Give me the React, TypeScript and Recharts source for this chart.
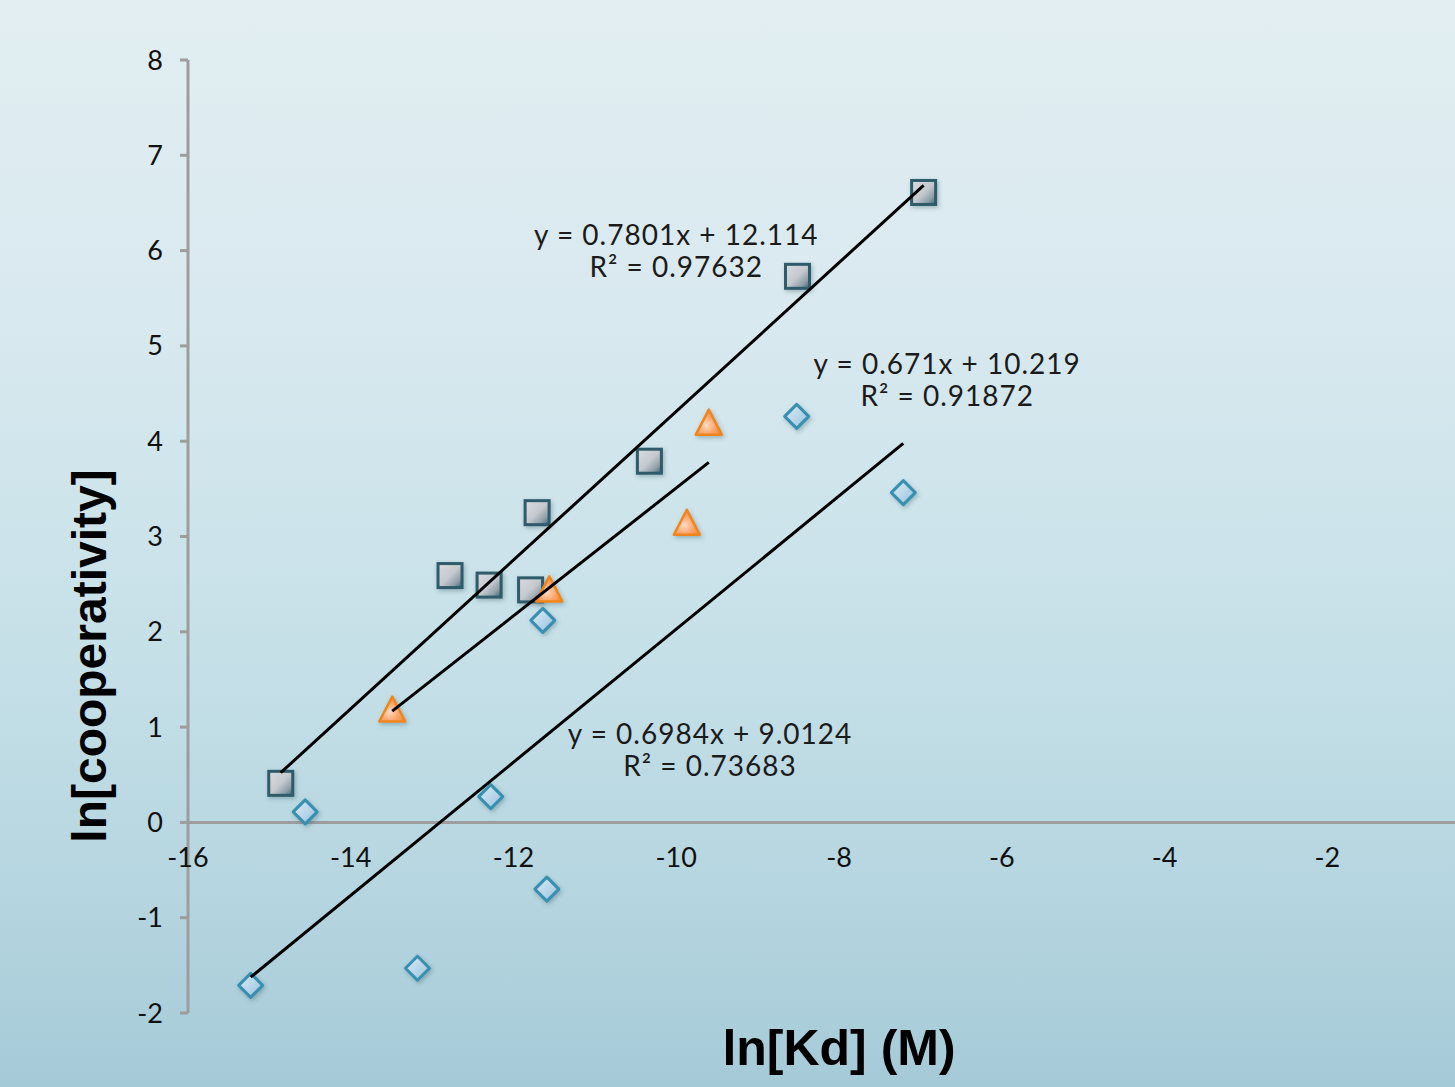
import React from 'react';
import { ScatterChart, Scatter, XAxis, YAxis, ReferenceLine } from 'recharts';

// axis ticks
const xTicks = [-16, -14, -12, -10, -8, -6, -4, -2];
const yTicks = [-2, -1, 0, 1, 2, 3, 4, 5, 6, 7, 8];

// series 1 - squares
const squareX = [-14.86, -12.78, -12.3, -11.79, -11.71, -10.33, -8.51, -6.96];
const squareY = [0.41, 2.59, 2.49, 2.44, 3.25, 3.79, 5.73, 6.61];

// series 2 - triangles
const triangleX = [-13.49, -11.56, -9.87, -9.6];
const triangleY = [1.19, 2.45, 3.15, 4.2];

// series 3 - diamonds
const diamondX = [-15.23, -14.56, -13.18, -12.28, -11.64, -11.59, -8.52, -7.21];
const diamondY = [-1.71, 0.11, -1.53, 0.27, 2.12, -0.7, 4.26, 3.46];

// linear trendlines (squares, triangles, diamonds)
const slopes = [0.7801, 0.671, 0.6984];
const intercepts = [12.114, 10.219, 9.0124];
const equations = ['y = 0.7801x + 12.114', 'y = 0.671x + 10.219', 'y = 0.6984x + 9.0124'];
const rSquared = ['R² = 0.97632', 'R² = 0.91872', 'R² = 0.73683'];
// where each equation label sits (data coords of first line baseline)
const labelX = [-10.0, -6.67, -9.585];
const labelY = [6.06, 4.71, 0.82];

const W = 1500;
const H = 1087;
const TOP = 60;
const BOTTOM = 44;
const X_AXIS_H = 30;
const PLOT_H = H - TOP - BOTTOM - X_AXIS_H;
const Y_MIN = -2;
const Y_MAX = 8;
const ZERO_Y = TOP + ((Y_MAX - 0) / (Y_MAX - Y_MIN)) * PLOT_H;

const TEXT_FONT = 'Lato, "Open Sans", sans-serif';
const TITLE_FONT = '"Liberation Sans", Arial, sans-serif';
const AXIS_GREY = '#9d9d9d';

const zip = (xs: number[], ys: number[]) => xs.map((x, i) => ({ x, y: ys[i] }));
const squares = zip(squareX, squareY);
const triangles = zip(triangleX, triangleY);
const diamonds = zip(diamondX, diamondY);

const trend = (xs: number[], i: number) => {
  const lo = Math.min(...xs);
  const hi = Math.max(...xs);
  return [
    { x: lo, y: slopes[i] * lo + intercepts[i] },
    { x: hi, y: slopes[i] * hi + intercepts[i] },
  ];
};
const trends = [trend(squareX, 0), trend(triangleX, 1), trend(diamondX, 2)];

const labels = equations.map((eq, i) => ({ x: labelX[i], y: labelY[i], eq, r2: rSquared[i] }));

const fmt = (v: number) => String(v);

const SquareShape = (p: any) => (
  <rect x={p.cx - 12} y={p.cy - 12} width={24} height={24}
    fill="url(#sqFill)" stroke="#2d5b6b" strokeWidth={3} filter="url(#mkShadow)" />
);

const DiamondShape = (p: any) => (
  <path d={`M${p.cx},${p.cy - 12} L${p.cx + 12},${p.cy} L${p.cx},${p.cy + 12} L${p.cx - 12},${p.cy} Z`}
    fill="url(#dmFill)" stroke="#3790b1" strokeWidth={3} strokeLinejoin="round" filter="url(#mkShadow)" />
);

const TriangleShape = (p: any) => (
  <path d={`M${p.cx},${p.cy - 12.5} L${p.cx + 13},${p.cy + 12.5} L${p.cx - 13},${p.cy + 12.5} Z`}
    fill="url(#trFill)" stroke="#ee861a" strokeWidth={2.5} strokeLinejoin="round" filter="url(#mkShadow)" />
);

const EquationShape = (p: any) => {
  const d = p.payload ?? p;
  return (
    <g>
      <text x={p.cx} y={p.cy} textAnchor="middle" fontFamily={TEXT_FONT} fontSize={28}
        letterSpacing={1} fill="#1b1b1b">{d.eq}</text>
      <text x={p.cx} y={p.cy + 32} textAnchor="middle" fontFamily={TEXT_FONT} fontSize={28}
        letterSpacing={1} fill="#1b1b1b">{d.r2}</text>
    </g>
  );
};

const XTick = (p: any) => (
  <text x={p.x} y={ZERO_Y + 45} textAnchor="middle" fontFamily={TEXT_FONT} fontSize={27} fill="#111">
    {fmt(p.payload.value)}
  </text>
);

export default function App() {
  return (
    <div style={{
      position: 'absolute', left: 0, top: 0, width: 1455, height: 1087, overflow: 'hidden',
      background: 'linear-gradient(180deg, #e2eef2 0%, #d8e9ef 30%, #c6e0e8 60%, #b3d4df 85%, #a5cad7 100%)',
    }}>
      <svg width={0} height={0} style={{ position: 'absolute' }}>
        <defs>
          <linearGradient id="sqFill" x1="0" y1="0" x2="1" y2="1">
            <stop offset="0%" stopColor="#d8dbde" />
            <stop offset="50%" stopColor="#c6cacf" />
            <stop offset="78%" stopColor="#8e9ea8" />
            <stop offset="100%" stopColor="#365f70" />
          </linearGradient>
          <linearGradient id="dmFill" x1="0" y1="0" x2="1" y2="1">
            <stop offset="0%" stopColor="#dcebf4" />
            <stop offset="55%" stopColor="#b7d5e9" />
            <stop offset="100%" stopColor="#8fbcdb" />
          </linearGradient>
          <radialGradient id="trFill" cx="0.4" cy="0.62" r="0.7">
            <stop offset="0%" stopColor="#ffdcc4" />
            <stop offset="50%" stopColor="#fba56d" />
            <stop offset="100%" stopColor="#f3852f" />
          </radialGradient>
          <filter id="mkShadow" x="-50%" y="-50%" width="200%" height="200%">
            <feDropShadow dx="1.5" dy="2" stdDeviation="2" floodColor="#35525e" floodOpacity="0.35" />
          </filter>
        </defs>
      </svg>
      <ScatterChart width={W} height={H} margin={{ top: TOP, right: 10, bottom: BOTTOM, left: 108 }}>
        <XAxis type="number" dataKey="x" domain={[-16, 0]} ticks={xTicks} interval={0}
          axisLine={false} tickLine={false} tick={<XTick />} height={X_AXIS_H}
          label={{
            content: (lp: any) => (
              <text x={lp.viewBox.x + lp.viewBox.width / 2} y={lp.viewBox.y + 52} textAnchor="middle"
                fontFamily={TITLE_FONT} fontWeight="bold" fontSize={50} fill="#000">ln[Kd] (M)</text>
            ),
          }} />
        <YAxis type="number" dataKey="y" domain={[Y_MIN, Y_MAX]} ticks={yTicks} interval={0} width={80}
          tickSize={8} tickMargin={17}
          axisLine={{ stroke: AXIS_GREY, strokeWidth: 3 }}
          tickLine={{ stroke: AXIS_GREY, strokeWidth: 3 }}
          tick={{ fill: '#111', fontSize: 27, fontFamily: TEXT_FONT }}
          tickFormatter={fmt}
          label={{
            content: () => (
              <text x={106} y={656} transform="rotate(-90 106 656)" textAnchor="middle"
                fontFamily={TITLE_FONT} fontWeight="bold" fontSize={48} fill="#000">ln[cooperativity]</text>
            ),
          }} />
        <ReferenceLine y={0} stroke={AXIS_GREY} strokeWidth={3} />
        <Scatter data={squares} shape={SquareShape} isAnimationActive={false} />
        <Scatter data={triangles} shape={TriangleShape} isAnimationActive={false} />
        <Scatter data={diamonds} shape={DiamondShape} isAnimationActive={false} />
        {trends.map((t, i) => (
          <Scatter key={i} data={t} stroke="#000" line={{ stroke: '#000', strokeWidth: 3 }}
            shape={() => <g />} isAnimationActive={false} />
        ))}
        <Scatter data={labels} shape={EquationShape} isAnimationActive={false} />
      </ScatterChart>
    </div>
  );
}
